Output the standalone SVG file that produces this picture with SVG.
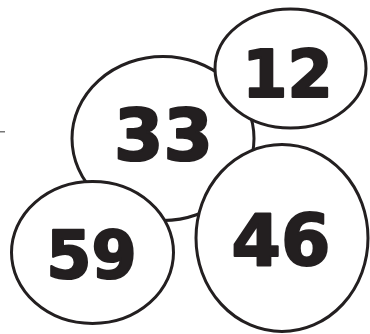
<svg xmlns="http://www.w3.org/2000/svg" width="370" height="334" viewBox="0 0 370 334">
<style>
.c{fill:#fff;stroke:#231f20;stroke-width:3}
.t{font-family:"DejaVu Sans",sans-serif;font-weight:bold;fill:#231f20;stroke:#231f20;stroke-width:2.2;stroke-linejoin:round;text-anchor:middle}
</style>
<rect width="370" height="334" fill="#fff"/>
<g id="mark"><rect x="0" y="131" width="5" height="1.5" fill="#777"/></g>
<g id="n33"><ellipse class="c" cx="163" cy="138.5" rx="91" ry="82"/><text class="t" x="163.5" y="160" font-size="71">33</text></g>
<g id="n12"><ellipse class="c" cx="290.5" cy="68.5" rx="75.5" ry="59.5"/><text class="t" x="287.5" y="97" font-size="65">12</text></g>
<g id="n59"><ellipse class="c" cx="92.5" cy="252.5" rx="81" ry="71"/><text class="t" x="91.5" y="278" font-size="65">59</text></g>
<g id="n46"><ellipse class="c" cx="282" cy="238" rx="86" ry="93.5"/><text class="t" x="281" y="265" font-size="71">46</text></g>
<g id="connectors"/>
</svg>
